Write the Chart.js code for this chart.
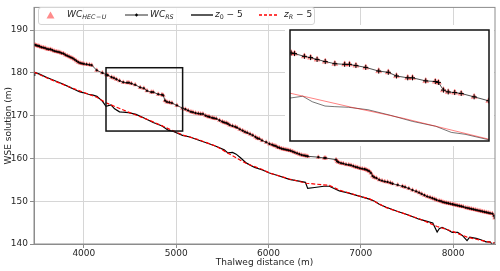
<!DOCTYPE html>
<html>
<head>
<meta charset="utf-8">
<script src="https://cdn.jsdelivr.net/npm/chart.js@4.4.0/dist/chart.umd.min.js"></script>
<style>
  body { margin: 0; background: #fff; font-family: "DejaVu Sans", sans-serif; }
  #wrap { position: relative; width: 500px; height: 271px; }
  #main { position: absolute; left: 0; top: 0; }
  #inset { position: absolute; left: 285px; top: 25px; background: #fff; }
  #legend { position: absolute; left: 38px; top: 7px; width: 275px; height: 16px;
            border: 1px solid #d4d4d4; border-radius: 3px; background: rgba(255,255,255,0.85); }
  .sym { position: absolute; }
  .lt { position: absolute; top: 10px; font-size: 9px; line-height: 9px; color: #262626; white-space: nowrap; }
  .lt i { font-style: italic; }
  .lt sub { font-size: 70%; vertical-align: -2px; line-height: 0; }
</style>
</head>
<body>
<div id="wrap">
  <canvas id="main" width="500" height="271"></canvas>
  <canvas id="inset" width="209" height="121"></canvas>
  <div id="legend"></div>
  <svg class="sym" style="left:46px;top:11px" width="9" height="8"><polygon points="4.5,0.5 8.5,7.5 0.5,7.5" fill="rgba(255,0,0,0.45)"/></svg>
  <div class="lt" style="left:67px"><i>WC</i><sub><i>HEC</i>&#8202;&#8722;&#8202;<i>U</i></sub></div>
  <svg class="sym" style="left:125px;top:12px" width="23" height="6"><line x1="0" y1="3" x2="23" y2="3" stroke="#111" stroke-width="0.9"/><line x1="10" y1="3" x2="13" y2="3" stroke="#000" stroke-width="1.2"/><line x1="11.5" y1="1.5" x2="11.5" y2="4.5" stroke="#000" stroke-width="1.2"/></svg>
  <div class="lt" style="left:150px"><i>WC</i><sub><i>RS</i></sub></div>
  <svg class="sym" style="left:191px;top:12px" width="22" height="6"><line x1="0" y1="3" x2="22" y2="3" stroke="#000" stroke-width="1.3"/></svg>
  <div class="lt" style="left:215px"><i>z</i><sub>0</sub> &#8722; 5</div>
  <svg class="sym" style="left:259px;top:12px" width="20" height="6"><line x1="0" y1="3" x2="20" y2="3" stroke="red" stroke-width="1.3" stroke-dasharray="3,2"/></svg>
  <div class="lt" style="left:284px"><i>z</i><sub><i>R</i></sub> &#8722; 5</div>
</div>
<script>
// axis ticks
const xTicks = [4000, 5000, 6000, 7000, 8000];
const yTicks = [140, 150, 160, 170, 180, 190];

// water surface elevation along the thalweg (both models overlap)
const wcX = [
  3460,3475,3490,3505,3520,3540,3560,3580,3600,3620,
  3640,3660,3680,3700,3720,3740,3760,3780,3800,3820,
  3840,3860,3880,3900,3920,3940,3960,3980,4000,4030,
  4060,4085,4140,4200,4245,4259,4300,4326,4353,4387,
  4427,4468,4488,4515,4556,4610,4650,4684,4731,4751,
  4806,4846,4859,4880,4900,4927,4954,5008,5069,5100,
  5130,5160,5182,5210,5240,5265,5290,5320,5345,5362,
  5390,5410,5434,5470,5500,5520,5542,
  5560,5580,5610,5640,5660,5690,5720,5745,5770,5800,
  5830,5860,5880,5900,5930,5975,6011,6040,6060,6080,
  6100,6119,6140,6160,6180,6200,6220,6240,6263,6285,
  6310,6335,6360,6385,6405,6425,6540,6605,6620,6732,
  6745,6760,6786,6810,6840,6870,6894,6920,6945,6966,
  6990,7015,7040,7056,7075,7092,7110,7128,7146,7170,
  7200,7230,7260,7290,7320,7344,7400,7452,7480,7520,
  7560,7600,7632,7660,7690,7720,7750,7776,7800,7820,
  7849,7870,7890,7910,7930,7950,7970,7993,8010,8030,
  8050,8070,8090,8110,8137,8160,8180,8200,8220,8240,
  8260,8281,8300,8320,8340,8360,8380,8400,8425,8443,
  8452
];
const wcHecU = [
  186.6,186.5,186.4,186.3,186.2,186.0,185.9,185.8,185.6,185.5,
  185.5,185.3,185.1,185.0,184.9,184.8,184.6,184.5,184.2,184.0,
  183.8,183.6,183.4,183.1,182.8,182.5,182.3,182.2,182.1,182.0,
  181.9,181.8,180.6,180.0,179.55,179.45,179.0,178.8,178.5,178.15,
  177.8,177.7,177.7,177.5,177.2,176.6,176.4,175.8,175.5,175.5,
  175.0,174.9,174.75,173.5,173.2,173.1,172.95,172.4,171.75,171.5,
  171.2,170.9,170.8,170.6,170.5,170.4,170.4,170.0,169.8,169.7,
  169.5,169.4,169.3,168.9,168.6,168.4,168.3,
  168.1,167.8,167.6,167.4,167.2,166.8,166.5,166.2,166.0,165.7,
  165.4,165.0,164.7,164.6,164.2,163.8,163.4,163.2,163.0,162.9,
  162.6,162.5,162.3,162.2,162.1,162.0,161.9,161.8,161.6,161.4,
  161.2,161.0,160.8,160.7,160.6,160.5,160.3,160.1,160.1,159.7,
  159.3,159.1,158.9,158.8,158.6,158.5,158.4,158.2,158.0,157.9,
  157.7,157.6,157.5,157.4,157.2,157.0,156.6,155.9,155.6,155.4,
  155.0,154.8,154.6,154.5,154.3,154.1,153.8,153.5,153.3,153.0,
  152.6,152.3,152.0,151.7,151.4,151.1,150.9,150.7,150.5,150.3,
  150.1,150.0,149.8,149.7,149.6,149.5,149.4,149.3,149.2,149.1,
  149.0,148.9,148.8,148.7,148.5,148.4,148.3,148.2,148.1,148.0,
  147.9,147.8,147.7,147.6,147.5,147.4,147.3,147.2,147.1,146.6,
  146.1
];
const wcRs = wcHecU;

// bed profile z0 - 5
const z0X = [3460,3468,3520,3600,3680,3773,3850,3900,3950,3989,4050,4100,4141,4200,4240,4293,4333,4386,4427,4484,
  4565,4658,4751,4848,4913,4970,5069,5150,5254,5350,5438,5520,5560,5611,5650,5700,5762,5850,5935,6011,
  6100,6227,6330,6400,6425,6500,6600,6659,6700,6768,6850,6984,7092,7150,7200,7276,7400,7500,7632,7700,
  7780,7827,7850,7880,7950,7990,8050,8100,8151,8180,8250,8300,8357,8400,8430,8454];
const z0 = [179.4,180.1,179.7,178.9,178.2,177.4,176.6,176.1,175.6,175.4,175.0,174.8,174.5,173.4,172.2,172.5,171.6,170.9,170.8,170.7,
  170.3,169.4,168.4,167.6,166.6,166.3,165.4,165.0,164.2,163.5,162.8,162.0,161.3,161.4,161.0,160.1,158.9,157.9,157.3,156.6,
  156.0,155.1,154.7,154.4,153.0,153.2,153.5,153.5,153.1,152.4,152.0,151.2,150.5,150.0,149.3,148.6,147.6,146.9,145.8,145.4,
  144.9,142.8,143.6,143.9,143.2,142.7,142.7,142.0,140.8,141.6,141.3,141.0,140.5,140.5,139.8,140.4];

// reference bed zR - 5
const zRX = [3460,3600,3773,3989,4141,4240,4497,4713,5069,5254,5438,5546,5762,5935,6011,6227,6411,6659,6768,6984,
  7092,7276,7632,7827,7989,8151,8357,8454];
const zR = [180.2,178.8,177.3,175.5,174.3,173.0,170.7,168.9,165.5,164.3,162.8,161.4,158.8,157.4,156.6,155.2,154.2,153.7,152.6,151.2,
  150.6,148.5,145.9,144.1,143.0,141.6,140.6,140.2];

// zoomed window
const zoomX = [4240, 5070];
const zoomY = [166.4, 181.2];
const insetY = [165.2, 183.3];

const pts = (xs, ys) => xs.map((v, i) => ({x: v, y: ys[i]}));
const font = {family: 'DejaVu Sans', size: 9};

function makeSets(inset) {
  return [
    {data: pts(zRX, zR), borderColor: inset ? 'rgba(255,0,0,0.55)' : 'red', borderWidth: inset ? 0.9 : 1.2,
     borderDash: inset ? [] : [4, 2], pointRadius: 0},
    {data: pts(z0X, z0), borderColor: inset ? 'rgba(0,0,0,0.6)' : '#000', borderWidth: inset ? 0.9 : 1.2, pointRadius: 0},
    {data: pts(wcX, wcRs), borderColor: '#222', borderWidth: 0.8, pointStyle: 'cross',
     pointRadius: inset ? 2.5 : 1.2, pointBorderColor: '#000', pointBorderWidth: 1},
    {data: pts(wcX, wcHecU), showLine: false, pointStyle: 'triangle', pointRadius: inset ? 3.5 : 2.5,
     pointBackgroundColor: 'rgba(255,0,0,0.4)', pointBorderColor: 'rgba(255,0,0,0.4)', pointBorderWidth: 0.5}
  ];
}

const frame = {
  id: 'frame',
  afterDatasetsDraw(chart) {
    const {ctx, chartArea: a, scales: {x, y}} = chart;
    ctx.save();
    ctx.strokeStyle = '#8c8c8c';
    ctx.lineWidth = 1;
    ctx.strokeRect(a.left, a.top, a.right - a.left, a.bottom - a.top);
    ctx.strokeStyle = '#111';
    ctx.lineWidth = 1.5;
    const x0 = x.getPixelForValue(zoomX[0]), x1 = x.getPixelForValue(zoomX[1]);
    const y0 = y.getPixelForValue(zoomY[1]), y1 = y.getPixelForValue(zoomY[0]);
    ctx.strokeRect(x0, y0, x1 - x0, y1 - y0);
    ctx.restore();
  }
};

new Chart(document.getElementById('main'), {
  type: 'line',
  data: {datasets: makeSets(false)},
  options: {
    responsive: false, animation: false,
    layout: {padding: {top: 4, right: 4, left: 0, bottom: 0}},
    plugins: {legend: {display: false}, tooltip: {enabled: false}},
    elements: {line: {tension: 0}},
    scales: {
      x: {
        type: 'linear', min: 3460, max: 8454,
        afterBuildTicks: s => { s.ticks = xTicks.map(v => ({value: v})); },
        afterFit: s => { s.height = 27; },
        ticks: {font, color: '#262626', padding: 0, maxRotation: 0, callback: v => String(v)},
        grid: {color: '#d6d6d6', tickLength: 4, tickColor: '#8c8c8c'},
        border: {color: '#8c8c8c'},
        title: {display: true, text: 'Thalweg distance (m)', font, color: '#262626', padding: {top: 0, bottom: 3}}
      },
      y: {
        type: 'linear', min: 140, max: 195.3,
        afterBuildTicks: s => { s.ticks = yTicks.map(v => ({value: v})); },
        afterFit: s => { s.width = 34; },
        ticks: {font, color: '#262626', padding: 2, callback: v => String(v)},
        grid: {color: '#d6d6d6', tickLength: 4, tickColor: '#8c8c8c'},
        border: {color: '#8c8c8c'},
        title: {display: true, text: 'WSE solution (m)', font, color: '#262626', padding: {top: 3, bottom: 0}}
      }
    }
  },
  plugins: [frame]
});

const insetFrame = {
  id: 'insetFrame',
  afterDatasetsDraw(chart) {
    const {ctx, chartArea: a} = chart;
    ctx.save();
    ctx.strokeStyle = '#111';
    ctx.lineWidth = 1.5;
    ctx.strokeRect(a.left, a.top, a.right - a.left, a.bottom - a.top);
    ctx.restore();
  }
};

new Chart(document.getElementById('inset'), {
  type: 'line',
  data: {datasets: makeSets(true)},
  options: {
    responsive: false, animation: false,
    layout: {padding: 2},
    plugins: {legend: {display: false}, tooltip: {enabled: false}},
    elements: {line: {tension: 0}},
    scales: {
      x: {type: 'linear', display: false, min: zoomX[0], max: zoomX[1]},
      y: {type: 'linear', display: false, min: insetY[0], max: insetY[1]}
    }
  },
  plugins: [insetFrame]
});
</script>
</body>
</html>
